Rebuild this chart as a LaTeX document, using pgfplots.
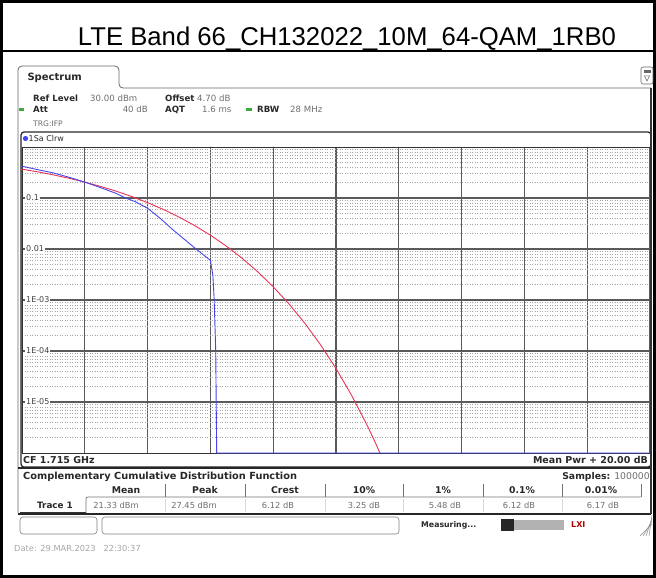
\documentclass[border=0pt]{standalone}
\usepackage{fontspec}
\setmainfont{DejaVu Sans}
\newfontfamily\titlefont{Liberation Sans}
\usepackage{pgfplots}
\pgfplotsset{compat=1.18}
\definecolor{tr1}{RGB}{70,70,235}
\definecolor{refc}{RGB}{235,50,85}
\definecolor{gridmaj}{RGB}{90,90,90}
\definecolor{txt}{RGB}{40,40,40}
\definecolor{txtg}{RGB}{110,110,110}
\definecolor{grn}{RGB}{60,170,60}
\newcommand{\fs}[1]{\fontsize{#1}{#1}\selectfont}
\begin{document}
\begin{tikzpicture}[x=1pt,y=1pt]
\useasboundingbox (0,0) rectangle (656,-578);
% outer frame and title
\draw[line width=2.5pt] (1.5,-1.5) rectangle (654.5,-576.5);
\draw[line width=2pt] (0,-51) -- (656,-51);
\node[font=\titlefont\fs{25.7}, anchor=base, inner sep=0pt] at (347,-45.5) {LTE Band 66\_CH132022\_10M\_64-QAM\_1RB0};

% spectrum window tab
\draw[black!60, line width=0.8pt, rounded corners=4pt] (18,-513) -- (18,-66) -- (119,-66) -- (119,-88) -- (651,-88);
\node[anchor=west, font=\bfseries\fs{10}, text=txt] at (24,-78) {Spectrum};
% top right icon
\draw[black!60, line width=0.6pt, rounded corners=2pt] (641,-67) rectangle (653,-84);
\fill[black!60] (643.5,-70) rectangle (650.5,-73);
\draw[black!60, line width=0.5pt] (644.5,-76) -- (649.5,-76) -- (647,-81) -- cycle;

% info header
\begin{scope}[every node/.style={anchor=west, inner sep=0pt, text=txt, font=\fs{8.6}}]
\node[font=\bfseries\fs{8.6}] at (33,-98) {Ref Level};
\node[text=txtg] at (90,-98) {30.00 dBm};
\node[font=\bfseries\fs{8.6}] at (165,-98) {Offset};
\node[text=txtg] at (197,-98) {4.70 dB};
\node[font=\bfseries\fs{8.6}] at (33,-109.5) {Att};
\node[text=txtg, anchor=east] at (148,-109.5) {40 dB};
\node[font=\bfseries\fs{8.6}] at (165,-109.5) {AQT};
\node[text=txtg] at (202,-109.5) {1.6 ms};
\node[font=\bfseries\fs{8.6}] at (257,-109.5) {RBW};
\node[text=txtg] at (290,-109.5) {28 MHz};
\node[text=txtg, font=\fs{7.6}] at (33,-124) {TRG:IFP};
\end{scope}
\fill[grn] (18.5,-108.3) rectangle (23.5,-110.7);
\fill[grn] (245.5,-108.3) rectangle (251.5,-110.7);

% diagram box
\draw[black!85, line width=1.2pt, rounded corners=3pt] (21,-467) rectangle (651,-132);
\fill[tr1] (25.5,-138.5) circle (2.6);
\node[anchor=west, inner sep=0pt, font=\fs{8}, text=txt] at (28.5,-138.5) {1Sa Clrw};

\begin{axis}[
  at={(22pt,-453pt)}, anchor=south west,
  scale only axis, width=628pt, height=306pt,
  xmin=0, xmax=20, ymode=log, ymin=1e-6, ymax=1,
  xtick={0,2,...,20}, xticklabels={},
  ytick={1e-5,1e-4,1e-3,1e-2,1e-1},
  yticklabels={1E-05,1E-04,1E-03,0.01,0.1},
  minor ytick={2e-6,3e-6,4e-6,5e-6,6e-6,7e-6,8e-6,9e-6,
    2e-5,3e-5,4e-5,5e-5,6e-5,7e-5,8e-5,9e-5,
    2e-4,3e-4,4e-4,5e-4,6e-4,7e-4,8e-4,9e-4,
    2e-3,3e-3,4e-3,5e-3,6e-3,7e-3,8e-3,9e-3,
    2e-2,3e-2,4e-2,5e-2,6e-2,7e-2,8e-2,9e-2,
    2e-1,3e-1,4e-1,5e-1,6e-1,7e-1,8e-1,9e-1},
  major tick length=0pt, minor tick length=0pt,
  grid=both,
  major grid style={gridmaj, line width=1.1pt},
  minor grid style={black!35, line width=0.5pt, dotted},
  axis line style={black!80, line width=1pt},
  yticklabel style={anchor=west, xshift=3pt, fill=white, inner sep=1pt,
     font=\fs{8}, text=black!75},
  clip=false,
]
\addplot[refc, line width=0.9pt] coordinates {
 (0,0.3679) (0.5,0.3256) (1,0.2840) (1.5,0.2435) (2,0.2050) (2.5,0.1689)
 (3,0.1360) (3.5,0.1066) (4,0.0811) (4.5,0.0597) (5,0.0423) (5.5,0.0288)
 (6,0.01867) (6.5,0.01148) (7,0.00666) (7.5,0.00361) (8,0.001817)
 (8.5,8.42e-4) (9,3.55e-4) (9.5,1.346e-4) (10,4.54e-5) (10.5,1.34e-5)
 (11,3.41e-6) (11.2,1.88e-6) (11.4,1.0e-6)
};
\addplot[tr1, line width=0.9pt] coordinates {
 (0,0.42) (0.5,0.36) (1,0.31) (1.5,0.255) (2,0.205) (2.5,0.16)
 (3,0.123) (3.3,0.10) (3.6,0.085) (4,0.063) (4.4,0.04) (4.8,0.024)
 (5.2,0.015) (5.5,0.0105) (5.8,0.0075) (6.0,0.006) (6.08,0.003)
 (6.12,0.001) (6.17,1e-4) (6.2,1e-6) (20,1e-6)
};
\end{axis}

% below diagram
\node[anchor=west, inner sep=0pt, font=\bfseries\fs{9.5}, text=txt] at (23,-460) {CF 1.715 GHz};
\node[anchor=east, inner sep=0pt, font=\bfseries\fs{9.5}, text=txt] at (648,-460) {Mean Pwr + 20.00 dB};
\draw[black!85, line width=2pt] (18,-467.5) -- (651,-467.5);

% table
\node[anchor=west, inner sep=0pt, font=\bfseries\fs{9.8}, text=txt] at (23,-477) {Complementary Cumulative Distribution Function};
\node[anchor=east, inner sep=0pt, font=\fs{9.3}, text=txt] at (650,-477) {\textbf{Samples:} \textcolor{txtg}{100000}};
\foreach \x/\t in {126/Mean,205/Peak,285/Crest,364/10\%,443/1\%,522/0.1\%,601/0.01\%}
  \node[inner sep=0pt, font=\bfseries\fs{9.3}, text=txt] at (\x,-490.5) {\t};
\foreach \x in {165,245,325,403,483,562,641}
  \draw[black!55, line width=0.7pt] (\x,-484) -- (\x,-497);
\draw[black!55, line width=0.7pt, rounded corners=2pt] (641,-497) -- (86,-497) -- (86,-513);
\draw[black!80, line width=1pt] (20,-512) -- (86,-512);
\node[inner sep=0pt, font=\bfseries\fs{8.8}, text=txt] at (55,-505.5) {Trace 1};
\foreach \x/\t in {116/21.33 dBm,194/27.45 dBm,278/6.12 dB,364/3.25 dB,445/5.48 dB,519/6.12 dB,603/6.17 dB}
  \node[inner sep=0pt, font=\fs{8.3}, text=txtg] at (\x,-505.5) {\t};
\foreach \x in {165,245,325,403,483,562}
  \draw[black!15, line width=0.6pt] (\x,-499) -- (\x,-512);
\draw[black!85, line width=2pt] (18,-514) -- (651,-514);
\draw[black!80, line width=1.5pt] (651,-88) -- (651,-514);

% status bar
\draw[black!50, line width=0.6pt, rounded corners=3pt] (20,-517) rectangle (97,-534);
\draw[black!50, line width=0.6pt, rounded corners=3pt] (102,-517) rectangle (399,-534);
\node[anchor=west, inner sep=0pt, font=\bfseries\fs{7.8}, text=txt] at (421,-525) {Measuring...};
\fill[black!85] (501,-519) rectangle (514,-531);
\fill[black!30] (514,-520) rectangle (564,-530);
\node[anchor=west, inner sep=0pt, font=\bfseries\fs{8}, text=red!70!black] at (571,-525) {LXI};
\foreach \d in {0,3,6,9}
  \draw[black!45, line width=0.5pt] (640+\d,-536) -- (652,-524+\d);
\node[anchor=west, inner sep=0pt, font=\fs{8.3}, text=black!35] at (14,-548) {Date: 29.MAR.2023\ \ \ 22:30:37};
\end{tikzpicture}
\end{document}
